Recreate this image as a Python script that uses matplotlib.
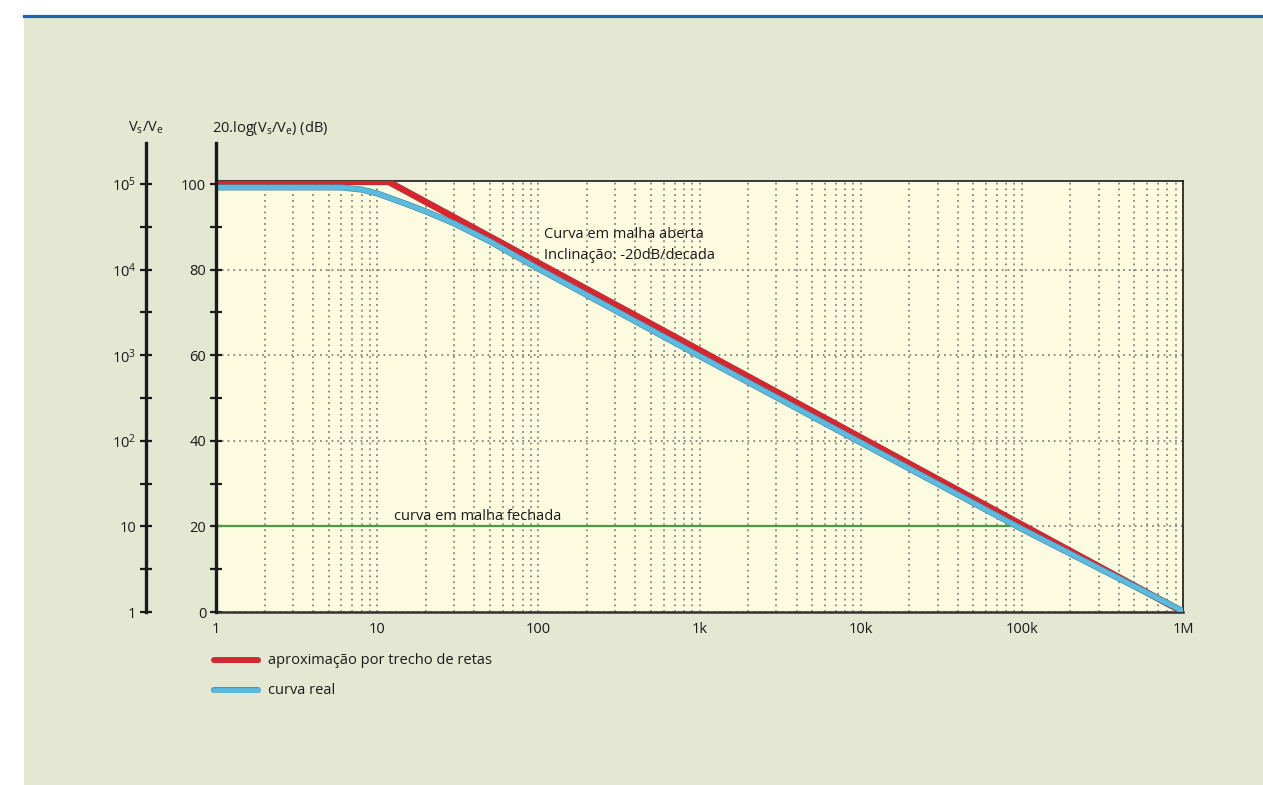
import matplotlib
matplotlib.use("Agg")
import matplotlib.pyplot as plt
import matplotlib.patheffects as pe
from matplotlib.lines import Line2D
from matplotlib.patches import Rectangle
from matplotlib.ticker import LogLocator, NullFormatter

plt.rcParams["font.family"] = ["Open Sans", "DejaVu Sans"]
plt.rcParams["mathtext.fontset"] = "custom"
plt.rcParams["mathtext.rm"] = "Open Sans"
plt.rcParams["mathtext.it"] = "Open Sans"

# data
freq_ticks = [1, 10, 100, 1e3, 1e4, 1e5, 1e6]
freq_labels = ["1", "10", "100", "1k", "10k", "100k", "1M"]
db_ticks = [0, 20, 40, 60, 80, 100]
db_minor = [10, 30, 50, 70, 90]
ratio_labels = ["1", "10", "10$^{2}$", "10$^{3}$", "10$^{4}$", "10$^{5}$"]

approx_freq = [1, 11.8, 1e6]
approx_db = [100.5, 100.5, 0.0]

real_freq = [1, 6, 8, 10, 15, 20, 30, 50, 100, 1e3, 1e4, 1e5, 1e6]
real_db = [99.2, 99.2, 98.7, 97.8, 95.4, 93.6, 90.8, 86.6, 80.2, 59.8, 39.6, 19.4, 0.2]

closed_freq = [1, 8.5e4]
closed_db = [20, 20]

BEIGE = "#e4e7d1"
CREAM = "#fdfbdf"
RED = "#d8252f"
BLUE = "#5bbbdf"
GREEN = "#4f9b45"
GRID = "#85857c"
INK = "#1a1a1a"
FS = 10.5

W, H = 1263, 785


def fx(px):
    return px / W


def fy(py):
    return 1 - py / H


fig = plt.figure(figsize=(W / 100, H / 100), dpi=100, facecolor="white")
fig.add_artist(Rectangle((fx(24), 0), 1 - fx(24), fy(16), transform=fig.transFigure,
                         facecolor=BEIGE, edgecolor="none", zorder=0))
fig.add_artist(Line2D([fx(24), 1], [fy(15.5), fy(15.5)], transform=fig.transFigure,
                      color="#1a65ad", linewidth=2.3))

top, bottom, left, right = 181, 612, 216, 1183
ymax = (bottom - top) / 4.28
ext = (bottom - 143) / (bottom - top)

ax = fig.add_axes([fx(left), fy(bottom), fx(right) - fx(left), fy(top) - fy(bottom)])
ax.set_facecolor(CREAM)
ax.set_xscale("log")
ax.set_xlim(1, 1e6)
ax.set_ylim(0, ymax)

ax.set_xticks(freq_ticks, freq_labels)
ax.xaxis.set_minor_locator(LogLocator(base=10, subs=range(2, 10)))
ax.xaxis.set_minor_formatter(NullFormatter())
ax.tick_params(axis="x", which="both", length=0, pad=7, labelsize=FS, colors=INK)
ax.set_yticks(db_ticks, [str(v) for v in db_ticks])
ax.set_yticks(db_minor, minor=True)
ax.tick_params(axis="y", which="both", direction="inout", length=8, width=1.6,
               color=INK, pad=3, labelsize=FS, labelcolor=INK)

ax.grid(axis="x", which="both", color=GRID, linestyle=(0, (1, 2.2)), linewidth=1.3)
ax.grid(axis="y", which="major", color=GRID, linestyle=(0, (1, 2.2)), linewidth=1.3)
# no dotted line right under the top border
ax.get_ygridlines()[-1].set_visible(False)
ax.set_axisbelow(True)

for side in ("top", "right"):
    ax.spines[side].set_linewidth(1.2)
    ax.spines[side].set_color(INK)
ax.spines["bottom"].set_linewidth(1.8)
ax.spines["bottom"].set_color("#333333")
ax.spines["left"].set_visible(False)
ax.add_line(Line2D([0, 0], [0, ext], transform=ax.transAxes, color=INK,
                   linewidth=2.4, clip_on=False, zorder=5))

ax.plot(closed_freq, closed_db, color=GREEN, linewidth=1.6, zorder=3)
ax.plot(approx_freq, approx_db, color=RED, linewidth=3.9, solid_capstyle="round",
        zorder=4, path_effects=[pe.Stroke(linewidth=4.7, foreground="#a8343a"), pe.Normal()])
ax.plot(real_freq, real_db, color=BLUE, linewidth=3.5, solid_capstyle="round",
        zorder=4, path_effects=[pe.Stroke(linewidth=4.4, foreground="#4a8aa3"), pe.Normal()])

ax.text(12.7, 22.3, "curva em malha fechada", fontsize=FS, color=INK, va="center", ha="left")
ax.text(108, 88.1, "Curva em malha aberta", fontsize=FS, color=INK, va="center", ha="left")
ax.text(108, 83.4, "Inclinação: -20dB/decada", fontsize=FS, color=INK, va="center", ha="left")

# second scale: Vs/Ve
ax2 = fig.add_axes([fx(146), fy(bottom), 0.0005, fy(top) - fy(bottom)])
ax2.set_facecolor("none")
ax2.set_ylim(0, ymax)
ax2.set_xticks([])
for side in ("top", "right", "bottom", "left"):
    ax2.spines[side].set_visible(False)
ax2.set_yticks(db_ticks, ratio_labels)
ax2.set_yticks(db_minor, minor=True)
ax2.tick_params(axis="y", which="both", direction="inout", length=8, width=1.6,
                color=INK, pad=3, labelsize=FS, labelcolor=INK)
ax2.add_line(Line2D([0, 0], [0, ext], transform=ax2.transAxes, color=INK,
                    linewidth=2.4, clip_on=False))

fig.text(fx(128), fy(128), "V$_{s}$/V$_{e}$", fontsize=FS, color=INK, ha="left", va="center")
fig.text(fx(212), fy(128), "20.log(V$_{s}$/V$_{e}$) (dB)", fontsize=FS, color=INK,
         ha="left", va="center")

# legend drawn by hand
for ypix, color, edge, label in [(660, RED, "#a8343a", "aproximação por trecho de retas"),
                                 (690, BLUE, "#4a8aa3", "curva real")]:
    fig.add_artist(Line2D([fx(214), fx(258)], [fy(ypix), fy(ypix)], transform=fig.transFigure,
                          color=color, linewidth=3.4, solid_capstyle="round",
                          path_effects=[pe.Stroke(linewidth=4.2, foreground=edge), pe.Normal()]))
    fig.text(fx(268), fy(ypix), label, fontsize=FS, color=INK, ha="left", va="center")

fig.savefig("out.png", dpi=100, facecolor="white")
